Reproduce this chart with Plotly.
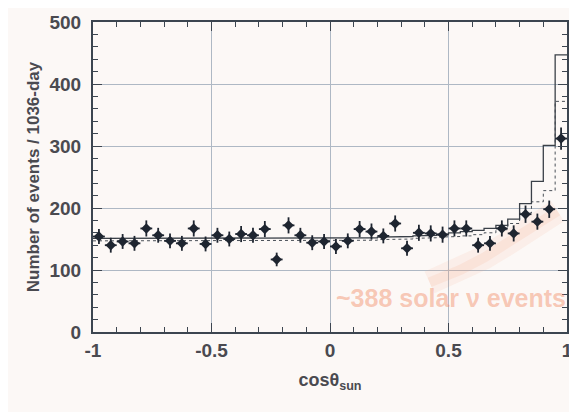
import numpy as np
import plotly.graph_objects as go

# 40 bins in cos(theta_sun), width 0.05
bin_edges = [round(-1 + 0.05 * i, 3) for i in range(41)]
bin_centers = [round(-0.975 + 0.05 * i, 3) for i in range(40)]

data_counts = [154, 140, 146, 143, 167, 156, 147, 143, 167, 142,
               156, 150, 158, 156, 166, 117, 172, 156, 144, 146,
               138, 147, 166, 162, 155, 175, 135, 160, 159, 157,
               167, 167, 140, 143, 167, 159, 190, 178, 198, 312]
data_err = [12, 12, 12, 12, 13, 12, 12, 12, 13, 12,
            12, 12, 13, 12, 13, 11, 13, 12, 12, 12,
            12, 12, 13, 13, 12, 13, 12, 13, 13, 13,
            13, 13, 12, 12, 13, 13, 14, 13, 14, 18]

expected_solid = [151, 151, 151, 151, 151, 151, 151, 151, 151, 151,
                  151, 151, 151, 151, 151, 151, 151, 151, 152, 152,
                  152, 152, 152, 152, 153, 153, 154, 155, 156, 158,
                  160, 162, 164, 167, 172, 182, 207, 243, 301, 447]
expected_dashed = [147, 147, 147, 147, 147, 147, 147, 147, 147, 147,
                   147, 147, 147, 147, 147, 147, 147, 147, 148, 148,
                   148, 148, 148, 148, 149, 149, 150, 151, 152, 153,
                   154, 155, 157, 160, 165, 175, 192, 210, 228, 372]

solar_band_x = [0.42, 0.55, 0.65, 0.75, 0.85, 0.96]
solar_band_y = [80, 100, 120, 143, 166, 195]

annotation_text = "~388 solar ν events"

fig = go.Figure()

# faint orange solar-signal band
fig.add_trace(go.Scatter(x=solar_band_x, y=solar_band_y, mode="lines",
                         line=dict(color="rgba(244,160,120,0.10)", width=24),
                         hoverinfo="skip", showlegend=False))
fig.add_trace(go.Scatter(x=solar_band_x, y=solar_band_y, mode="lines",
                         line=dict(color="rgba(244,150,110,0.12)", width=10),
                         hoverinfo="skip", showlegend=False))

def step_xy(edges, vals):
    xs, ys = [], []
    for i, v in enumerate(vals):
        xs += [edges[i], edges[i + 1]]
        ys += [v, v]
    return xs, ys

sx, sy = step_xy(bin_edges, expected_solid)
dx, dy = step_xy(bin_edges, expected_dashed)

fig.add_trace(go.Scatter(x=dx, y=dy, mode="lines",
                         line=dict(color="#4a5058", width=1, dash="dot"),
                         showlegend=False))
fig.add_trace(go.Scatter(x=sx, y=sy, mode="lines",
                         line=dict(color="#3a4048", width=1.3),
                         showlegend=False))

fig.add_trace(go.Scatter(
    x=bin_centers, y=data_counts, mode="markers",
    marker=dict(color="#1e2530", size=8, symbol="diamond"),
    error_y=dict(type="data", array=data_err, color="#1e2530", thickness=1.8, width=0),
    error_x=dict(type="constant", value=0.025, color="#1e2530", thickness=1.8, width=0),
    showlegend=False))

fig.add_annotation(x=0.015, y=55, xref="x", yref="y", text="<b>" + annotation_text + "</b>",
                   showarrow=False, xanchor="left", yanchor="middle",
                   font=dict(family="Liberation Sans", size=25, color="rgba(240,130,90,0.42)"))

tick_font = dict(family="Liberation Sans", size=19, color="#4a4a50", weight="bold")
axis_common = dict(showline=True, linecolor="#3c4550", linewidth=2, mirror="ticks",
                   ticks="inside", ticklen=9, tickcolor="#3c4550", tickwidth=1.2,
                   showgrid=True, gridcolor="#aeb8c4", gridwidth=1.2, zeroline=False,
                   automargin=False, tickfont=tick_font)

fig.update_xaxes(range=[-1, 1], tickvals=[-1, -0.5, 0, 0.5, 1],
                 ticktext=["-1", "-0.5", "0", "0.5", "1"],
                 minor=dict(ticks="inside", ticklen=5, dtick=0.1, tickcolor="#3c4550", showgrid=False),
                 title=dict(text="<b>cosθ<sub>sun</sub></b>", standoff=14,
                            font=dict(family="Liberation Sans", size=18, color="#4a4a50")),
                 **axis_common)
fig.update_yaxes(range=[0, 500], tickvals=[0, 100, 200, 300, 400, 500],
                 ticklabelstandoff=6,
                 minor=dict(ticks="inside", ticklen=5, dtick=20, tickcolor="#3c4550", showgrid=False),
                 title=dict(text="<b>Number of events / 1036-day</b>", standoff=6,
                            font=dict(family="Liberation Sans", size=17, color="#4a4a50")),
                 **axis_common)

fig.update_layout(width=569, height=404,
                  margin=dict(l=85, r=10, t=14, b=80),
                  paper_bgcolor="#fcf8f6", plot_bgcolor="#fcf8f6",
                  showlegend=False)

fig.write_html("out.html")
